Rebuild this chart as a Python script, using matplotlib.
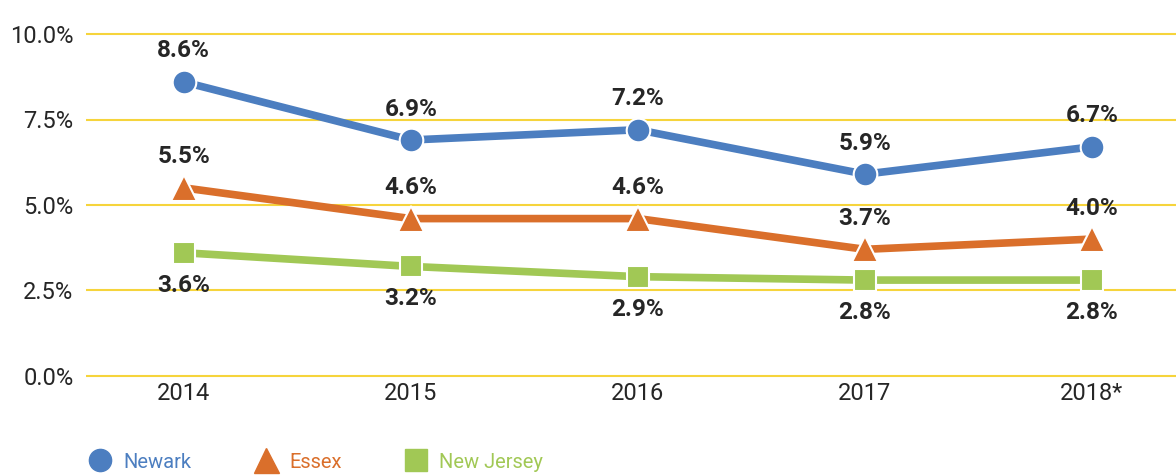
import matplotlib.pyplot as plt
from matplotlib.lines import Line2D

# data
years = ['2014', '2015', '2016', '2017', '2018*']
newark = [8.6, 6.9, 7.2, 5.9, 6.7]
essex = [5.5, 4.6, 4.6, 3.7, 4.0]
new_jersey = [3.6, 3.2, 2.9, 2.8, 2.8]
y_ticks = [0, 2.5, 5.0, 7.5, 10.0]

blue = '#4C7EC0'
orange = '#DA6F2B'
green = '#A1C855'
grid_col = '#F6D43C'
txt = '#262626'

plt.rcParams['font.family'] = 'Roboto'

fig = plt.figure(figsize=(11.76, 4.75), dpi=100)
ax = fig.add_axes([86 / 1176, 1 - 386 / 475, 1 - 86 / 1176, 369 / 475])

x = range(len(years))
for yv in y_ticks:
    ax.axhline(yv, color=grid_col, lw=1.5, zorder=1)

ax.plot(x, new_jersey, color=green, lw=5.5, marker='s', ms=16,
        mec='white', mew=1.5, zorder=3)
ax.plot(x, essex, color=orange, lw=5.5, marker='^', ms=19,
        mec='white', mew=1.5, zorder=4)
ax.plot(x, newark, color=blue, lw=5.5, marker='o', ms=17,
        mec='white', mew=1.5, zorder=5)

lab = dict(textcoords='offset points', ha='center', fontsize=17.5,
           fontweight='bold', color=txt)
for i in x:
    ax.annotate(f'{newark[i]:.1f}%', (i, newark[i]), xytext=(0, 14),
                va='bottom', **lab)
    ax.annotate(f'{essex[i]:.1f}%', (i, essex[i]), xytext=(0, 14),
                va='bottom', **lab)
    ax.annotate(f'{new_jersey[i]:.1f}%', (i, new_jersey[i]), xytext=(0, -15),
                va='top', **lab)

ax.set_xlim(-0.43, 4.37)
ax.set_ylim(-0.3, 10.5)
ax.set_xticks(list(x))
ax.set_xticklabels(years)
ax.set_yticks(y_ticks)
ax.set_yticklabels([f'{v:.1f}%' for v in y_ticks])
ax.tick_params(length=0, labelsize=17, labelcolor=txt)
ax.tick_params(axis='y', pad=9)
ax.tick_params(axis='x', pad=-3)
for s in ax.spines.values():
    s.set_visible(False)

handles = [
    Line2D([], [], ls='none', marker='o', ms=16, color=blue),
    Line2D([], [], ls='none', marker='^', ms=18, color=orange),
    Line2D([], [], ls='none', marker='s', ms=16, color=green),
]
fig.legend(handles, ['Newark', 'Essex', 'New Jersey'], ncol=3,
           loc='center left', bbox_to_anchor=(70 / 1176, 1 - 462 / 475),
           frameon=False, fontsize=14.5, labelcolor=[blue, orange, green],
           handletextpad=0.55, columnspacing=3.1, handlelength=1.2)

fig.savefig('out.png', dpi=100)
